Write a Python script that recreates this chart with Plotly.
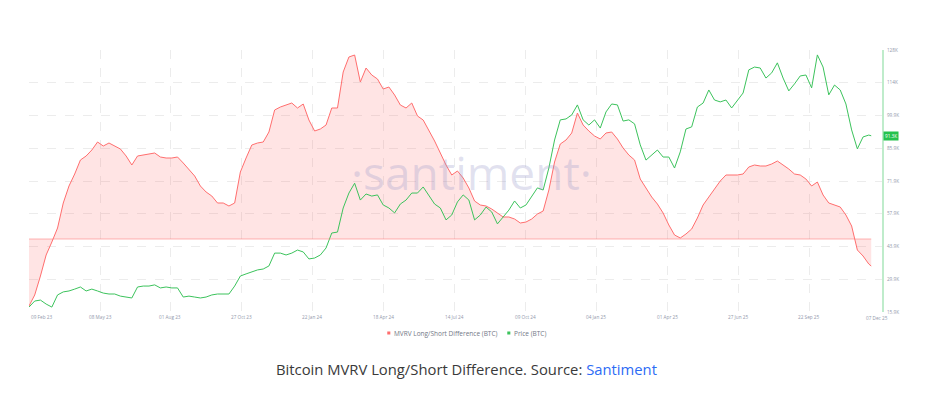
import pandas as pd
import plotly.graph_objects as go

# ---------------- data ----------------
start_date = "2023-02-09"
n_weeks = 148
last_date = "2025-12-07"

mvrv_diff_pct = [
    -16.75, -14.0, -9.25, -4.0, -0.75, 2.75, 9.0, 13.25, 16.25, 19.75,
    20.75, 22.25, 24.25, 23.25, 24.0, 23.25, 22.5, 20.75, 18.5, 20.75,
    21.0, 21.25, 21.5, 20.5, 20.25, 20.25, 20.5, 19.0, 17.5, 15.75,
    13.25, 11.75, 10.75, 9.0, 9.0, 8.25, 9.0, 16.75, 20.25, 23.5,
    24.0, 24.25, 26.75, 32.25, 33.0, 33.5, 34.0, 32.75, 33.75, 29.75,
    27.0, 27.5, 28.5, 32.75, 32.75, 41.75, 45.5, 46.0, 39.25, 42.75,
    41.0, 40.0, 37.5, 38.0, 36.0, 33.5, 32.75, 34.0, 30.75, 29.75,
    27.25, 24.5, 21.5, 18.5, 16.0, 17.0, 15.25, 12.75, 9.5, 8.5,
    8.25, 7.5, 6.5, 5.5, 5.5, 5.0, 4.0, 4.25, 5.0, 6.25,
    7.0, 12.25, 19.25, 23.75, 24.75, 26.5, 31.5, 28.5, 27.0, 25.75,
    25.0, 26.5, 26.75, 25.0, 22.75, 21.0, 19.75, 15.0, 12.75, 10.5,
    8.75, 6.5, 3.5, 1.0, 0.25, 1.25, 2.5, 5.25, 8.5, 10.5,
    12.25, 14.5, 16.0, 16.0, 16.0, 16.25, 18.0, 18.5, 18.25, 18.25,
    18.75, 19.5, 18.5, 17.5, 16.25, 16.0, 15.0, 13.25, 14.25, 11.0,
    9.0, 8.5, 8.0, 6.0, 3.25, -2.75, -4.25, -6.25, -6.75,
]

price_k = [
    18.0, 20.6, 21.0, 19.3, 18.0, 23.2, 24.5, 24.9, 25.7, 26.6,
    24.9, 25.7, 24.9, 24.0, 23.6, 23.6, 22.7, 22.3, 21.9, 26.6,
    27.0, 27.0, 27.5, 26.2, 26.6, 26.2, 26.2, 22.3, 22.7, 22.3,
    21.9, 22.3, 23.2, 23.6, 23.6, 23.6, 27.0, 31.3, 32.2, 33.0,
    33.9, 34.3, 35.6, 41.1, 41.1, 40.3, 41.1, 42.4, 41.6, 38.6,
    39.0, 40.3, 43.3, 49.7, 50.1, 60.4, 66.8, 71.0, 63.8, 66.4,
    65.5, 66.0, 61.7, 60.4, 58.3, 62.1, 63.8, 66.8, 66.8, 69.4,
    65.5, 62.1, 60.4, 55.3, 57.4, 63.0, 66.0, 63.8, 55.3, 57.4,
    60.8, 58.7, 53.6, 56.6, 59.5, 63.4, 60.4, 61.7, 65.5, 69.0,
    68.1, 77.5, 89.5, 98.1, 98.5, 100.2, 104.5, 98.1, 95.9, 98.1,
    94.6, 101.5, 104.9, 104.5, 97.6, 98.1, 96.4, 87.4, 80.9, 83.1,
    85.2, 82.2, 82.2, 77.5, 84.4, 94.2, 95.1, 103.6, 105.3, 110.9,
    106.6, 105.8, 106.6, 103.2, 106.6, 109.6, 119.5, 120.7, 120.3, 116.0,
    118.2, 122.5, 116.0, 110.5, 113.5, 116.9, 117.3, 111.8, 125.9, 120.7,
    108.8, 113.0, 110.9, 104.9, 93.8, 85.7, 90.8, 91.6, 91.3,
]

x_tick_dates = ["2023-02-09", "2023-05-08", "2023-08-01", "2023-10-27", "2024-01-22",
                "2024-04-18", "2024-07-14", "2024-10-09", "2025-01-04", "2025-04-01",
                "2025-06-27", "2025-09-22"]
x_tick_labels = ["09 Feb 23", "08 May 23", "01 Aug 23", "27 Oct 23", "22 Jan 24",
                 "18 Apr 24", "14 Jul 24", "09 Oct 24", "04 Jan 25", "01 Apr 25",
                 "27 Jun 25", "22 Sep 25"]
last_tick_label = "07 Dec 25"

price_tick_values = [15.9, 29.91, 43.93, 57.94, 71.95, 85.96, 99.98, 113.99, 128.0]
price_tick_labels = ["15.9K", "29.9K", "43.9K", "57.9K", "71.9K", "85.9K", "99.9K", "114K", "128K"]
last_price_label = "91.3K"

series_names = ["MVRV Long/Short Difference (BTC)", "Price (BTC)"]

# ---------------- figure ----------------
dates = list(pd.date_range(start_date, periods=n_weeks, freq="7D")) + [pd.Timestamp(last_date)]

RED = "#ff6e6e"
GREEN = "#3cc35c"
AXIS_TXT = "#9298ab"

fig = go.Figure()
fig.add_trace(go.Scatter(
    x=dates, y=mvrv_diff_pct, name=series_names[0], mode="lines",
    line=dict(color=RED, width=1), fill="tozeroy", fillcolor="rgba(255,110,110,0.19)",
    yaxis="y", hoverinfo="skip"))
fig.add_trace(go.Scatter(
    x=dates, y=price_k, name=series_names[1], mode="lines",
    line=dict(color=GREEN, width=1), yaxis="y2", hoverinfo="skip"))

# zero line of the MVRV series
fig.add_shape(type="line", xref="x", yref="y", x0=dates[0], x1=dates[-1], y0=0, y1=0,
              line=dict(color="rgba(255,110,110,0.5)", width=1), layer="above")

annotations = []
# watermark
annotations.append(dict(text="·santiment·", xref="paper", yref="paper", x=0.519, y=0.535,
                        showarrow=False, font=dict(family="Open Sans", size=46,
                                                   color="rgba(150,150,200,0.28)")))
# x tick labels
for i, (d, t) in enumerate(zip(x_tick_dates, x_tick_labels)):
    annotations.append(dict(text=t, xref="x", yref="paper", x=d, y=0, yanchor="top",
                            xanchor="left" if i == 0 else "center", showarrow=False,
                            font=dict(family="Open Sans", size=4.7, color=AXIS_TXT)))
annotations.append(dict(text=last_tick_label, xref="paper", yref="paper", x=1, y=0,
                        yanchor="top", xanchor="right", xshift=8, yshift=-1, showarrow=False,
                        font=dict(family="Open Sans", size=4.7, color=AXIS_TXT)))
# last price badge
annotations.append(dict(text=last_price_label, xref="paper", yref="y2", x=1, y=price_k[-1],
                        xanchor="left", yanchor="middle", xshift=1, showarrow=False,
                        bgcolor="#25c24d", borderpad=1,
                        font=dict(family="Open Sans", size=4.7, color="white")))
# legend
leg_y = -0.0805
annotations.append(dict(text=series_names[0], xref="paper", yref="paper", x=0.4255, y=leg_y,
                        xanchor="left", yanchor="middle", showarrow=False,
                        font=dict(family="Open Sans", size=6.5, color="#737886")))
annotations.append(dict(text=series_names[1], xref="paper", yref="paper", x=0.5662, y=leg_y,
                        xanchor="left", yanchor="middle", showarrow=False,
                        font=dict(family="Open Sans", size=6.5, color="#737886")))
# caption
annotations.append(dict(
    text="Bitcoin MVRV Long/Short Difference. Source: <span style='color:#2d6cf5'>Santiment</span>",
    xref="paper", yref="paper", x=0.5129, y=-0.2176, xanchor="center", yanchor="middle",
    showarrow=False, font=dict(family="Open Sans", size=14.8, color="#3a3a3a")))

shapes_legend = [
    dict(type="rect", xref="paper", yref="paper", x0=0.4200, x1=0.4236, y0=-0.0744, y1=-0.0859,
         fillcolor=RED, line=dict(width=0)),
    dict(type="rect", xref="paper", yref="paper", x0=0.5607, x1=0.5643, y0=-0.0744, y1=-0.0859,
         fillcolor=GREEN, line=dict(width=0)),
]
for s in shapes_legend:
    fig.add_shape(**s)

# the page body adds an 8 px offset, so the figure is 8 px smaller on each side
fig.update_layout(
    width=922, height=387,
    margin=dict(l=21, r=48, t=42, b=83),
    paper_bgcolor="white", plot_bgcolor="white",
    showlegend=False,
    annotations=annotations,
    xaxis=dict(type="date", range=["2023-02-09", "2025-12-20 05:00"],
               tickvals=x_tick_dates, showticklabels=False,
               showgrid=True, gridcolor="#ececec", griddash="dash", gridwidth=1,
               zeroline=False, showline=False, ticks=""),
    yaxis=dict(range=[-18.25, 47.25], visible=False, showgrid=False, zeroline=False),
    yaxis2=dict(range=[15.9, 128.0], overlaying="y", side="right", anchor="x",
                tickvals=price_tick_values, ticktext=price_tick_labels,
                tickfont=dict(family="Open Sans", size=4.7, color=AXIS_TXT),
                showgrid=True, gridcolor="#ececec", griddash="dash", gridwidth=1,
                zeroline=False, showline=True, linecolor="#bfeccb", linewidth=2,
                ticks="", ticklabelstandoff=2),
)

fig.write_html("out.html")
